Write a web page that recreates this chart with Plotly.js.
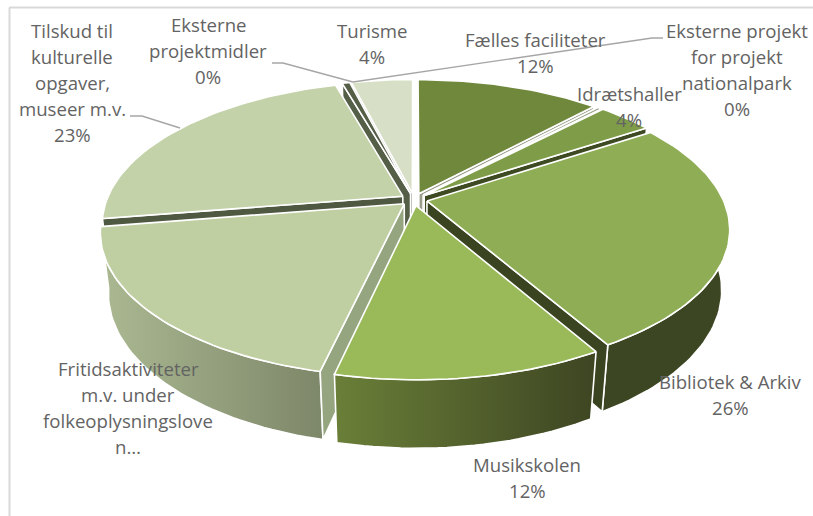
<!DOCTYPE html>
<html><head><meta charset="utf-8">
<script src="https://cdn.plot.ly/plotly-3.0.1.min.js"></script>
<style>html,body{margin:0;padding:0;background:#fff}#c{width:813px;height:516px}</style></head>
<body><div id="c"></div>
<script>
const categories=["Fælles faciliteter","Eksterne projekt for projekt nationalpark","Idrætshaller","Bibliotek & Arkiv","Musikskolen","Fritidsaktiviteter m.v. under folkeoplysningsloven","Tilskud til kulturelle opgaver, museer m.v.","Eksterne projektmidler","Turisme"];
const values=[12,0.3,3.6,26,12,19,23.2,0.5,4];
const topColors=["#70883c","#98a283","#7f9d49","#8fad55","#9aba5a","#bfcfa2","#c3d2a9","#555f47","#d7e0c7"];
const faceColors=["#9a9f8c","#7a8a5a","#3d4a22","#3a4420","#55662e","#95a57f","#4f5840","#555f47","#555f47"];
const wallLeft=["#55662e","#55662e","#3d4a22","#3c4622","#6a7f38","#abb992","#4f5840","#555f47","#555f47"];
const wallRight=["#55662e","#55662e","#3d4a22","#3c4622","#3d4522","#7d8769","#4f5840","#555f47","#555f47"];
const labelLines=[["Fælles faciliteter","12%"],["Eksterne projekt","for projekt","nationalpark","0%"],["Idrætshaller","4%"],["Bibliotek & Arkiv","26%"],["Musikskolen","12%"],["Fritidsaktiviteter","m.v. under","folkeoplysningslove","n…"],["Tilskud til","kulturelle","opgaver,","museer m.v.","23%"],["Eksterne","projektmidler","0%"],["Turisme","4%"]];
const labelX=[535,737,629,730,527,128,72,208,371.5];
const labelY=[39.5,30.5,93.5,381.5,464.5,368.5,30.5,24.5,30.5];
const lineStep=26;
// projection of the tilted disc
const X0=414,Y0=199.5,A=296,B=138,P=0.192,Q=0.025,C=61,EXPL=0.045,STEP=1.5*Math.PI/180;
function pt(a,r,z,b){
  const u=r*Math.sin(a)+EXPL*Math.sin(b), v=-r*Math.cos(a)-EXPL*Math.cos(b);
  const w=1-P*v+Q*z;
  return [X0+A*u/w,Y0+(B*v+C*z)/w];
}
function arc(a0,a1,z,b){const n=Math.max(2,Math.ceil((a1-a0)/STEP)),o=[];for(let i=0;i<=n;i++)o.push(pt(a0+(a1-a0)*i/n,1,z,b));return o;}
function poly(pts,fill,grad){
  const t={type:'scatter',mode:'lines',x:pts.map(p=>p[0]),y:pts.map(p=>p[1]),fill:'toself',fillcolor:fill,
    line:{color:'#ffffff',width:1.6},hoverinfo:'skip',showlegend:false};
  if(grad)t.fillgradient={type:'horizontal',colorscale:[[0,grad[0]],[1,grad[1]]]};
  return t;
}
const total=values.reduce((s,v)=>s+v,0);let cum=0;
const slices=values.map((v,i)=>{const a0=cum/total*2*Math.PI;cum+=v;const a1=cum/total*2*Math.PI;return {i,a0,a1,b:(a0+a1)/2};});
slices.sort((s,t)=>(-Math.cos(s.b))-(-Math.cos(t.b)));
const traces=[];
slices.forEach(s=>{
  const {i,a0,a1,b}=s;
  const c0=pt(0,0,0,b),c1=pt(0,0,1,b);
  const wallTop=arc(a0,a1,0,b),wallBot=arc(a0,a1,1,b).reverse();
  const w=wallTop.concat(wallBot);w.push(w[0]);
  traces.push(poly(w,wallRight[i],wallLeft[i]===wallRight[i]?null:[wallLeft[i],wallRight[i]]));
  if(Math.sin(a0)<0)traces.push(poly([c0,pt(a0,1,0,b),pt(a0,1,1,b),c1,c0],faceColors[i]));
  if(Math.sin(a1)>0)traces.push(poly([c0,pt(a1,1,0,b),pt(a1,1,1,b),c1,c0],faceColors[i]));
  const top=[c0].concat(arc(a0,a1,0,b));top.push(c0);
  traces.push(poly(top,topColors[i]));
});
const annotations=[];
labelLines.forEach((ls,i)=>ls.forEach((t,j)=>annotations.push({x:labelX[i],y:labelY[i]+j*lineStep,xref:'x',yref:'y',text:t,showarrow:false,xanchor:'center',yanchor:'middle',font:{family:'"Open Sans",sans-serif',size:18.6,color:'#636363'}})));
const leader=(xs,ys)=>({type:'scatter',mode:'lines',x:xs,y:ys,line:{color:'#a6a6a6',width:1.4},hoverinfo:'skip',showlegend:false});
traces.push(leader([663,652,353],[38,38,82]));
traces.push(leader([272,283,353],[63,63,82]));
traces.push(leader([130,142,180],[116,116,128]));
const frame=(x0,y0,x1,y1)=>({type:'line',xref:'x',yref:'y',x0,y0,x1,y1,line:{color:'#d9d9d9',width:2}});
Plotly.newPlot('c',traces,{width:813,height:516,margin:{l:0,r:0,t:0,b:0},paper_bgcolor:'#fff',plot_bgcolor:'#fff',showlegend:false,
  xaxis:{range:[0,813],visible:false,fixedrange:true},yaxis:{range:[516,0],visible:false,fixedrange:true},
  annotations,shapes:[frame(9,7.5,813,7.5),frame(9.5,7.5,9.5,516)]},{staticPlot:true});
</script></body></html>
